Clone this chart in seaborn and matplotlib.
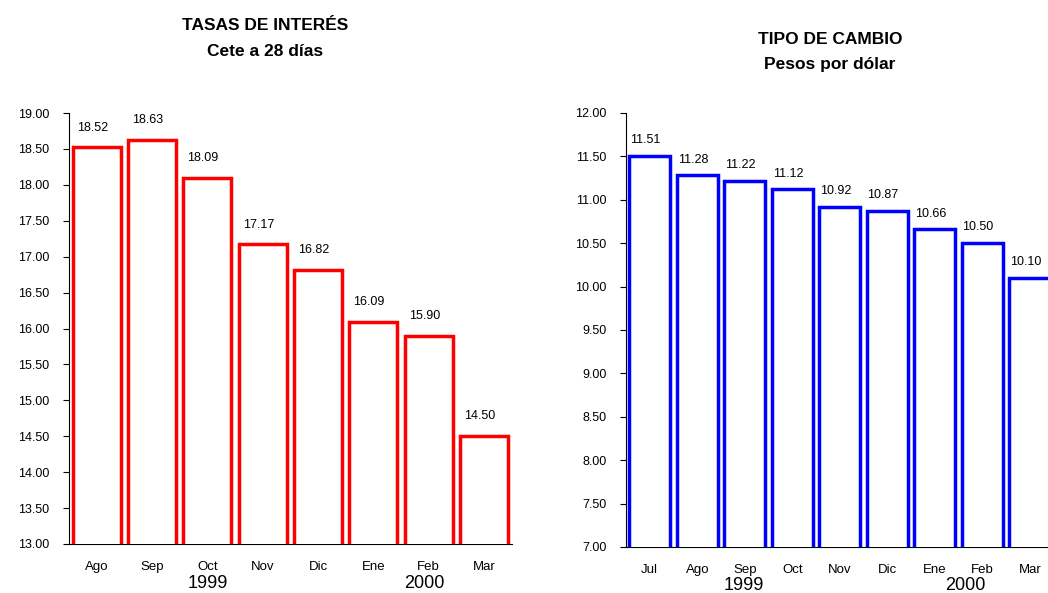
import matplotlib
matplotlib.use("Agg")
import matplotlib.pyplot as plt
import seaborn as sns
import pandas as pd
import numpy as np

# Datos
meses_tasa = ['Ago', 'Sep', 'Oct', 'Nov', 'Dic', 'Ene', 'Feb', 'Mar']
tasa_cete = [18.52, 18.63, 18.09, 17.17, 16.82, 16.09, 15.90, 14.50]

meses_tc = ['Jul', 'Ago', 'Sep', 'Oct', 'Nov', 'Dic', 'Ene', 'Feb', 'Mar']
tipo_cambio = [11.51, 11.28, 11.22, 11.12, 10.92, 10.87, 10.66, 10.50, 10.10]

sns.set_style('white')
plt.rcParams['font.family'] = ['Liberation Sans', 'DejaVu Sans']
plt.rcParams['text.color'] = 'black'
plt.rcParams['xtick.color'] = 'black'
plt.rcParams['ytick.color'] = 'black'
plt.rcParams['xtick.labelcolor'] = 'black'
plt.rcParams['ytick.labelcolor'] = 'black'

fig = plt.figure(figsize=(10.48, 5.93), dpi=100)


def draw_panel(ax, months, values, color, ylim, step, title, sub, title_xy,
               years, year_y, lab_off):
    df = pd.DataFrame({'mes': months, 'valor': values})
    sns.barplot(data=df, x='mes', y='valor', ax=ax, fill=False, color=color,
                width=0.87, linewidth=2.5, errorbar=None, edgecolor=color)
    for p in ax.patches:
        p.set_facecolor('white')
        p.set_edgecolor(color)
        p.set_linewidth(2.5)
        p.set_fill(True)
        p.set_zorder(3)
    ax.set_ylim(*ylim)
    ax.set_xlim(-0.5, len(months) - 0.5)
    ticks = np.arange(ylim[0], ylim[1] + 0.001, step)
    ax.set_yticks(ticks)
    ax.set_yticklabels([f'{v:.2f}' for v in ticks], fontsize=9)
    ax.set_xticks(range(len(months)))
    ax.set_xticklabels(months, fontsize=9.5)
    ax.set_xticks(np.arange(-0.5, len(months)), minor=True)
    ax.tick_params(axis='x', which='major', length=0, pad=12, labelcolor='black')
    ax.tick_params(axis='x', which='minor', length=6, width=0.8, direction='out', color='black')
    ax.tick_params(axis='y', length=4, width=0.8, direction='out', left=True, color='black',
                   pad=10, labelcolor='black')
    ax.set_xlabel('')
    ax.set_ylabel('')
    for s in ['top', 'right']:
        ax.spines[s].set_visible(False)
    for s in ['left', 'bottom']:
        ax.spines[s].set_color('black')
        ax.spines[s].set_linewidth(0.8)
    for i, v in enumerate(values):
        ax.annotate(f'{v:.2f}', (i, v), xytext=(-3, lab_off), textcoords='offset points',
                    ha='center', va='bottom', fontsize=9, color='black')
    for txt, xpos in years:
        ax.text(xpos, year_y, txt, transform=ax.get_xaxis_transform(),
                ha='center', va='center', fontsize=13, color='black', clip_on=False)
    fig.text(title_xy[0], title_xy[1], title, ha='center', va='center',
             fontsize=12.5, fontweight='bold', color='black')
    fig.text(title_xy[0], title_xy[2], sub, ha='center', va='center',
             fontsize=12.5, fontweight='bold', color='black')


ax1 = fig.add_axes([69 / 1048, 1 - 544 / 593, 442.7 / 1048, 431 / 593])
draw_panel(ax1, meses_tasa, tasa_cete, '#ff0000', (13, 19), 0.5,
           'TASAS DE INTERÉS', 'Cete a 28 días', (265 / 1048, 1 - 25 / 593, 1 - 52 / 593),
           [('1999', 2.0), ('2000', 5.92)], -(584 - 544) / 431, 10)

ax2 = fig.add_axes([626 / 1048, 1 - 547 / 593, 427.5 / 1048, 434 / 593])
draw_panel(ax2, meses_tc, tipo_cambio, '#0000ff', (7, 12), 0.5,
           'TIPO DE CAMBIO', 'Pesos por dólar', (830 / 1048, 1 - 40 / 593, 1 - 65 / 593),
           [('1999', 1.97), ('2000', 6.65)], -(585 - 547) / 434, 7)

fig.savefig('out.png', dpi=100)
